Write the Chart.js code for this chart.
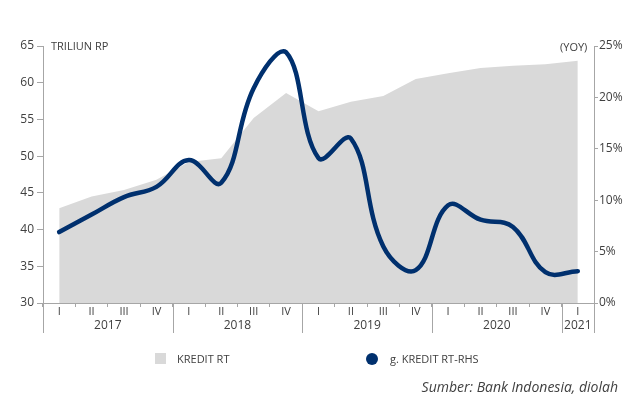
<!DOCTYPE html>
<html>
<head>
<meta charset="utf-8">
<title>Kredit RT</title>
<script src="https://cdn.jsdelivr.net/npm/chart.js"></script>
<style>
  body { margin: 0; background: #fff; font-family: "Open Sans", sans-serif; color: #404040; }
  #wrap { position: relative; width: 634px; height: 394px; }
  .lbl { position: absolute; font-size: 11px; color: #404040; white-space: nowrap; line-height: 1; }
  .sq { position: absolute; left: 155px; top: 353px; width: 11px; height: 11px; background: #d9d9d9; }
  .dot { position: absolute; left: 366px; top: 353px; width: 12px; height: 12px; border-radius: 50%; background: #00306e; }
  .src { position: absolute; right: 16px; top: 377px; font-size: 14px; font-style: italic; color: #404040; }
</style>
</head>
<body>
<div id="wrap">
  <canvas id="kreditChart" width="634" height="394"></canvas>
  <div class="lbl" style="left:51px;top:40px;">TRILIUN RP</div>
  <div class="lbl" style="left:560px;top:41px;">(YOY)</div>
  <div class="sq"></div>
  <div class="lbl" style="left:177px;top:353px;">KREDIT RT</div>
  <div class="dot"></div>
  <div class="lbl" style="left:390px;top:353px;">g. KREDIT RT-RHS</div>
  <div class="src">Sumber: Bank Indonesia, diolah</div>
</div>

<script>
// kuartal 2017 I - 2021 I
const quarters = ['I', 'II', 'III', 'IV', 'I', 'II', 'III', 'IV', 'I', 'II', 'III', 'IV', 'I', 'II', 'III', 'IV', 'I'];
const years = ['2017', '2017', '2017', '2017', '2018', '2018', '2018', '2018', '2019', '2019', '2019', '2019', '2020', '2020', '2020', '2020', '2021'];
const kreditRT = [42.9, 44.5, 45.4, 46.8, 49.2, 49.7, 55.2, 58.6, 56.1, 57.4, 58.2, 60.5, 61.3, 62.0, 62.3, 62.5, 63.0];
const growthRT = [6.9, 8.6, 10.3, 11.3, 13.9, 11.7, 20.9, 24.4, 14.1, 16.0, 5.5, 3.2, 9.5, 8.1, 7.4, 3.0, 3.1];
const leftTicks = [30, 65, 5];
const rightTicks = [0, 25, 5];

const axisColor = '#a6a6a6';
const textColor = '#404040';

// label tahun dan garis pemisah tahun di bawah sumbu x
const yearPlugin = {
    id: 'yearRows',
    afterDraw(chart) {
        const ctx = chart.ctx;
        const x = chart.scales.x;
        const bottom = chart.chartArea.bottom;
        const half = (x.getPixelForValue(1) - x.getPixelForValue(0)) / 2;
        ctx.save();
        ctx.strokeStyle = axisColor;
        ctx.lineWidth = 1;
        ctx.fillStyle = textColor;
        ctx.font = '12px "Open Sans"';
        ctx.textAlign = 'center';
        ctx.textBaseline = 'middle';
        let start = 0;
        for (let i = 1; i <= years.length; i++) {
            if (i === years.length || years[i] !== years[i - 1]) {
                const x0 = x.getPixelForValue(start) - half;
                const x1 = x.getPixelForValue(i - 1) + half;
                ctx.beginPath();
                ctx.moveTo(Math.round(x0) + 0.5, bottom);
                ctx.lineTo(Math.round(x0) + 0.5, bottom + 30);
                ctx.moveTo(Math.round(x1) + 0.5, bottom);
                ctx.lineTo(Math.round(x1) + 0.5, bottom + 30);
                ctx.stroke();
                ctx.fillText(years[start], (x0 + x1) / 2, bottom + 23);
                start = i;
            }
        }
        ctx.restore();
    }
};

const ctx = document.getElementById('kreditChart').getContext('2d');
new Chart(ctx, {
    type: 'line',
    data: {
        labels: quarters,
        datasets: [{
            label: 'g. KREDIT RT-RHS',
            data: growthRT,
            yAxisID: 'y1',
            borderColor: '#00306e',
            borderWidth: 4.5,
            borderCapStyle: 'round',
            pointRadius: 0,
            tension: 0.4,
            fill: false,
            order: 1
        }, {
            label: 'KREDIT RT',
            data: kreditRT,
            yAxisID: 'y',
            borderWidth: 0,
            backgroundColor: '#d9d9d9',
            pointRadius: 0,
            tension: 0,
            fill: 'start',
            order: 2
        }]
    },
    options: {
        responsive: false,
        animation: false,
        layout: { padding: { top: 46, left: 0, right: 0, bottom: 0 } },
        plugins: {
            legend: { display: false },
            tooltip: { enabled: false }
        },
        scales: {
            x: {
                offset: true,
                grid: { offset: true, drawOnChartArea: false, color: axisColor, tickLength: 4 },
                border: { color: axisColor },
                ticks: { color: textColor, font: { size: 11, family: 'Open Sans' }, padding: -2, maxRotation: 0, autoSkip: false },
                afterFit(s) { s.height = 91; }
            },
            y: {
                position: 'left',
                min: leftTicks[0], max: leftTicks[1],
                ticks: { stepSize: leftTicks[2], color: textColor, font: { size: 12, family: 'Open Sans' }, padding: 3 },
                grid: { drawOnChartArea: false, color: axisColor, tickLength: 6 },
                border: { color: axisColor },
                afterFit(s) { s.width = 43; }
            },
            y1: {
                position: 'right',
                min: rightTicks[0], max: rightTicks[1],
                ticks: { stepSize: rightTicks[2], color: textColor, font: { size: 12, family: 'Open Sans' }, padding: 1, callback: v => v + '%' },
                grid: { drawOnChartArea: false, color: axisColor, tickLength: 4 },
                border: { color: axisColor },
                afterFit(s) { s.width = 40; }
            }
        }
    },
    plugins: [yearPlugin]
});
</script>
</body>
</html>
